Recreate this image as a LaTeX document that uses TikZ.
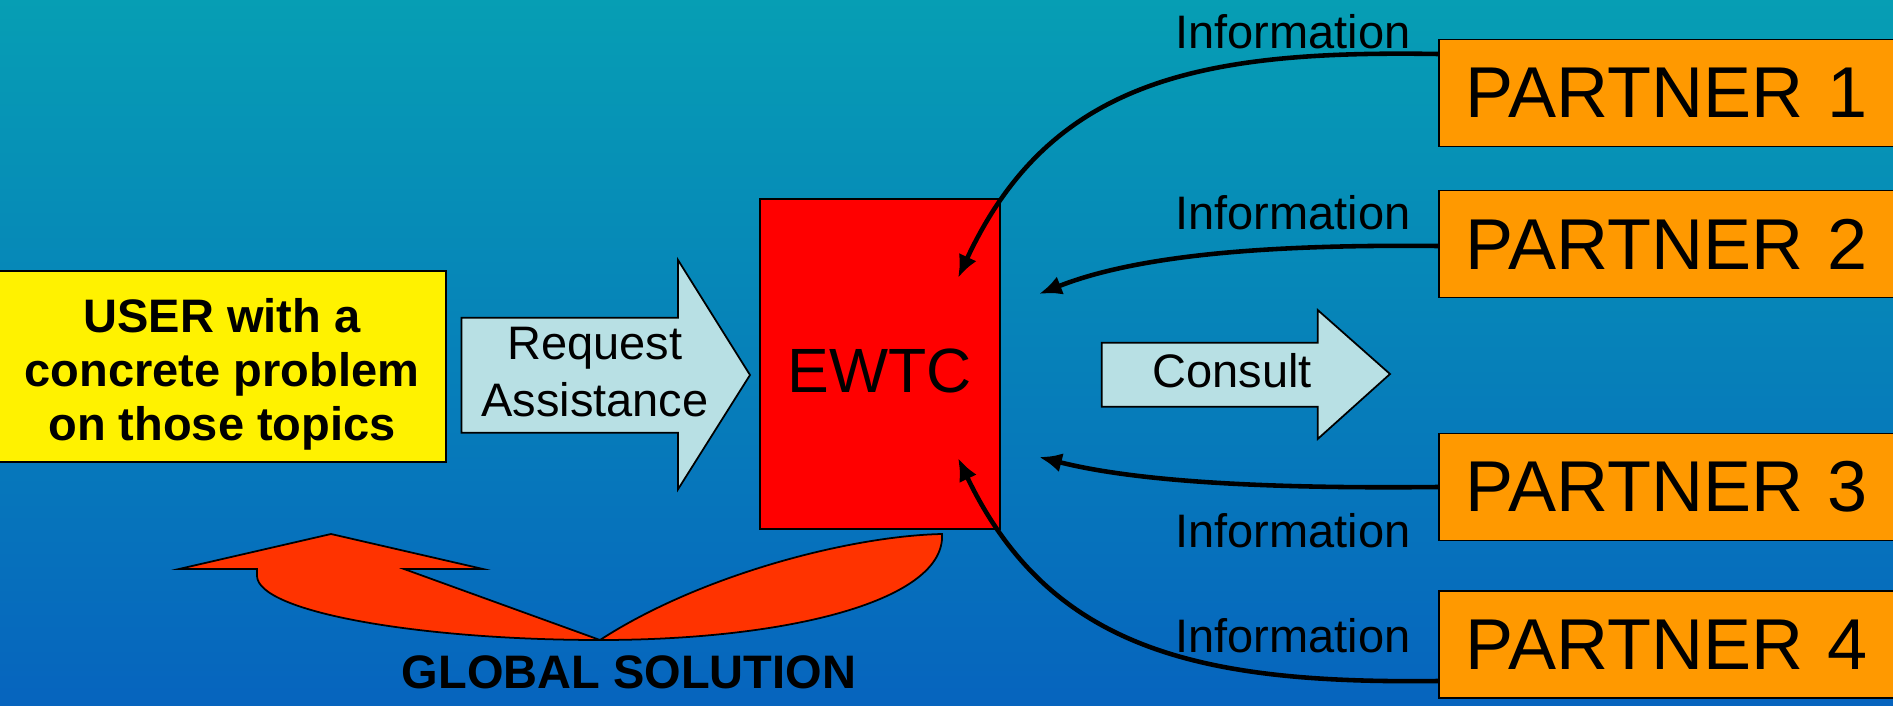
\documentclass[tikz,border=0pt]{standalone}
\usepackage{fontspec}
\setmainfont{Liberation Sans}
\usetikzlibrary{arrows.meta,calc}
\definecolor{bgtop}{RGB}{6,158,180}
\definecolor{bgbot}{RGB}{6,100,190}
\definecolor{arrowcyan}{RGB}{184,224,228}
\definecolor{partnerorange}{RGB}{255,153,0}
\definecolor{solred}{RGB}{255,51,0}
\newcommand\fuser{\bfseries\fontsize{26.75pt}{30.7pt}\selectfont}
\newcommand\freq{\fontsize{26.75pt}{32.4pt}\selectfont}
\newcommand\fewtc{\fontsize{35.6pt}{40pt}\selectfont}
\newcommand\fpartner{\fontsize{41pt}{46pt}\selectfont}
\begin{document}
\begin{tikzpicture}[x=0.02cm,y=-0.02cm,
  box/.style={draw=black, line width=1pt, inner sep=0pt, align=center},
  info/.style={font=\freq, inner sep=0pt},
  conn/.style={line width=2.6pt, -{Latex[length=13pt,width=11pt]}},
  flatarrow/.style={fill=arrowcyan, draw=black, line width=1pt, line join=miter},
  partner/.style={box, fill=partnerorange, anchor=west, text width=8.36cm,
    inner xsep=0.54cm, minimum height=2.14cm, align=left, font=\fpartner}]
\useasboundingbox (0,0) rectangle (1893,706);
\clip (0,0) rectangle (1893,706);
\shade[top color=bgtop, bottom color=bgbot] (0,0) rectangle (1893,706);

% block arrows
\draw[flatarrow] (461.5,317.7) -- (678,317.7) -- (678,260) -- (750,375)
  -- (678,489.3) -- (678,432.7) -- (461.5,432.7) -- cycle;
\draw[flatarrow] (1101.7,342.7) -- (1317.7,342.7) -- (1317.7,310) -- (1390,374)
  -- (1317.7,439) -- (1317.7,406.7) -- (1101.7,406.7) -- cycle;

% curved solution arrow
\draw[fill=solred, draw=black, line width=1pt, line join=miter]
  (600,640) .. controls (420,640) and (258,612) .. (257,576) -- (257,569)
  -- (179,569) -- (331,534) -- (483,569) -- (404,569) -- cycle;
\draw[fill=solred, draw=black, line width=1pt, line join=miter]
  (600,640) .. controls (700,575) and (850,536) .. (942,534)
  .. controls (946,600) and (790,640) .. (600,640) -- cycle;

% nodes
\node[box, fill=yellow, minimum width=8.96cm, minimum height=3.82cm, font=\fuser]
  (user) at (222,366.5) {\rule{0pt}{28.3pt}USER with a\\concrete problem\\on those topics};
\node[box, fill=red, minimum width=4.8cm, minimum height=6.6cm, font=\fewtc,
  text height=32.3pt, text depth=0pt]
  (ewtc) at (880,364) {EWTC};
\node[partner] (p1) at (1438,93) {PARTNER 1};
\node[partner] (p2) at (1438,244) {PARTNER 2};
\node[partner] (p3) at (1438,487) {PARTNER 3};
\node[partner] (p4) at (1438,644.5) {PARTNER 4};

\node[font=\freq, align=center, inner sep=0pt] (req) at (595,372) {Request\\Assistance};
\node[font=\freq, inner sep=0pt] (cons) at (1232,371) {Consult};
\node[font=\freq\bfseries, inner sep=0pt] (glob) at (629,672) {GLOBAL SOLUTION};

\node[info] (i1) at (1293,32) {Information};
\node[info] (i2) at (1293,213) {Information};
\node[info] (i3) at (1293,530.5) {Information};
\node[info] (i4) at (1293,636) {Information};

% connectors
\coordinate (e1) at (958,278);
\coordinate (e2) at (1039,294);
\coordinate (e3) at (1039,457);
\coordinate (e4) at (958,458);
\draw[conn] ($(p1.west)+(0,-39)$) .. controls (1200,50) and (1050,80) .. (e1);
\draw[conn] ($(p2.west)+(0,2)$) .. controls (1250,244) and (1130,258) .. (e2);
\draw[conn] (p3.west) .. controls (1250,489) and (1130,480) .. (e3);
\draw[conn] ($(p4.west)+(0,36.5)$) .. controls (1200,684) and (1050,650) .. (e4);
\end{tikzpicture}
\end{document}
